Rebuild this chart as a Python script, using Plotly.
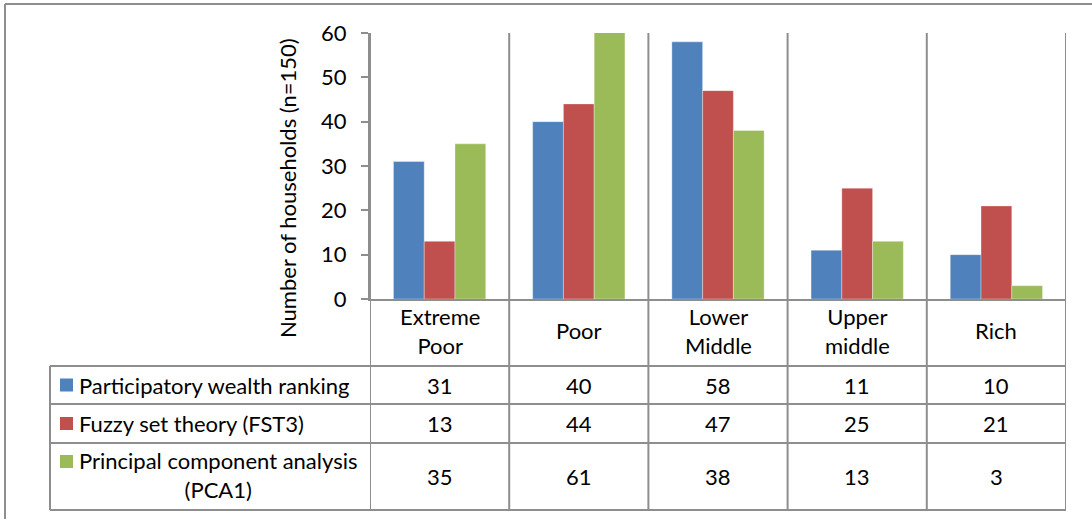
import plotly.graph_objects as go

# ---- data -------------------------------------------------------------
categories = ["Extreme Poor", "Poor", "Lower Middle", "Upper middle", "Rich"]
category_labels = ["Extreme<br>Poor", "Poor", "Lower<br>Middle", "Upper<br>middle", "Rich"]

series_names = [
    "Participatory wealth ranking",
    "Fuzzy set theory (FST3)",
    "Principal component analysis (PCA1)",
]
series_row_labels = [
    "Participatory wealth ranking",
    "Fuzzy set theory (FST3)",
    "Principal component analysis<br>(PCA1)",
]
participatory = [31, 40, 58, 11, 10]
fuzzy_fst3 = [13, 44, 47, 25, 21]
pca1 = [35, 61, 38, 13, 3]

y_ticks = [0, 10, 20, 30, 40, 50, 60]
y_title = "Number of households (n=150)"

# ---- styling ----------------------------------------------------------
colors = ["#4F81BD", "#C0504D", "#9BBB59"]
GRID = "#8e8e8e"
FONT = "Lato"
FS = 22

W, H = 1092, 519


def px(x):
    return x / W


def py(y):
    return 1 - y / H


# plot area and data table geometry (pixels)
PLOT_L, PLOT_R, PLOT_T, PLOT_B = 370, 1066, 33, 299
TABLE_L = 50
HEADER_B = 366
ROW_LINES = [366, 404, 443, 510]
TABLE_B = ROW_LINES[-1]

series_values = [participatory, fuzzy_fst3, pca1]

fig = go.Figure()
for name, vals, col in zip(series_names, series_values, colors):
    fig.add_trace(go.Bar(
        x=categories, y=vals, name=name,
        marker=dict(color=col, line=dict(width=0.6, color="rgba(255,255,255,0.55)")),
        showlegend=False,
    ))

shapes = []
line = dict(color=GRID, width=2)

# category dividers, running from the top of the plot down through the table
for i in range(len(categories) + 1):
    shapes.append(dict(type="line", xref="x", yref="paper",
                       x0=i - 0.5, x1=i - 0.5, y0=py(TABLE_B), y1=py(PLOT_T),
                       line=line))
# table row rules
for yl in ROW_LINES:
    shapes.append(dict(type="line", xref="paper", yref="paper",
                       x0=px(TABLE_L), x1=px(PLOT_R), y0=py(yl), y1=py(yl),
                       line=line))
# table left edge
shapes.append(dict(type="line", xref="paper", yref="paper",
                   x0=px(TABLE_L), x1=px(TABLE_L), y0=py(HEADER_B), y1=py(TABLE_B),
                   line=line))
# outer chart frame
shapes.append(dict(type="line", xref="paper", yref="paper",
                   x0=px(5), x1=1.0, y0=py(4), y1=py(4), line=line))
shapes.append(dict(type="line", xref="paper", yref="paper",
                   x0=px(5), x1=px(5), y0=0.0, y1=py(4), line=line))

# legend keys inside the table
row_centers = [(ROW_LINES[k] + ROW_LINES[k + 1]) / 2 for k in range(3)]
key_centers = [row_centers[0], row_centers[1], 461.5]
label_centers = [row_centers[0], row_centers[1], row_centers[2] - 2]
for kc, col in zip(key_centers, colors):
    shapes.append(dict(type="rect", xref="paper", yref="paper",
                       x0=px(60), x1=px(73), y0=py(kc + 6.5), y1=py(kc - 6.5),
                       fillcolor=col, line=dict(width=0)))

annotations = []
txt = dict(family=FONT, size=FS, color="#000000")

# category labels (header row of the table)
for i, lab in enumerate(category_labels):
    annotations.append(dict(xref="x", yref="paper", x=i, y=py((PLOT_B + HEADER_B) / 2 - 2),
                            text=lab, showarrow=False, font=txt,
                            xanchor="center", yanchor="middle", align="center"))

# series names and values
for r, (lab, vals) in enumerate(zip(series_row_labels, series_values)):
    annotations.append(dict(xref="paper", yref="paper", x=px(77), y=py(label_centers[r]),
                            text=lab, showarrow=False, font=txt,
                            xanchor="left", yanchor="middle", align="center"))
    for i, v in enumerate(vals):
        annotations.append(dict(xref="x", yref="paper", x=i, y=py(row_centers[r]),
                                text=str(v), showarrow=False, font=txt,
                                xanchor="center", yanchor="middle"))

# y-axis title
annotations.append(dict(xref="paper", yref="paper", x=px(288), y=py(188),
                        text=y_title, textangle=-90, showarrow=False, font=txt,
                        xanchor="center", yanchor="middle"))

fig.update_layout(
    template="none",
    width=W, height=H,
    margin=dict(l=0, r=0, t=0, b=0, pad=0, autoexpand=False),
    paper_bgcolor="white", plot_bgcolor="white",
    barmode="group", bargap=0.337, bargroupgap=0,
    font=dict(family=FONT, size=FS, color="#000000"),
    xaxis=dict(domain=[px(PLOT_L), px(PLOT_R)], showticklabels=False,
               showline=True, linecolor=GRID, linewidth=2, ticks="",
               showgrid=False, zeroline=False, automargin=False,
               range=[-0.5, len(categories) - 0.5]),
    yaxis=dict(domain=[py(PLOT_B), py(PLOT_T)], range=[0, 60],
               tickvals=y_ticks, ticks="outside", ticklen=7, tickwidth=2,
               tickcolor=GRID, showline=True, linecolor=GRID, linewidth=2,
               showgrid=False, zeroline=False, ticklabelstandoff=10,
               automargin=False,
               tickfont=dict(family=FONT, size=FS, color="#000000")),
    shapes=shapes,
    annotations=annotations,
)

fig.write_html("out.html")
